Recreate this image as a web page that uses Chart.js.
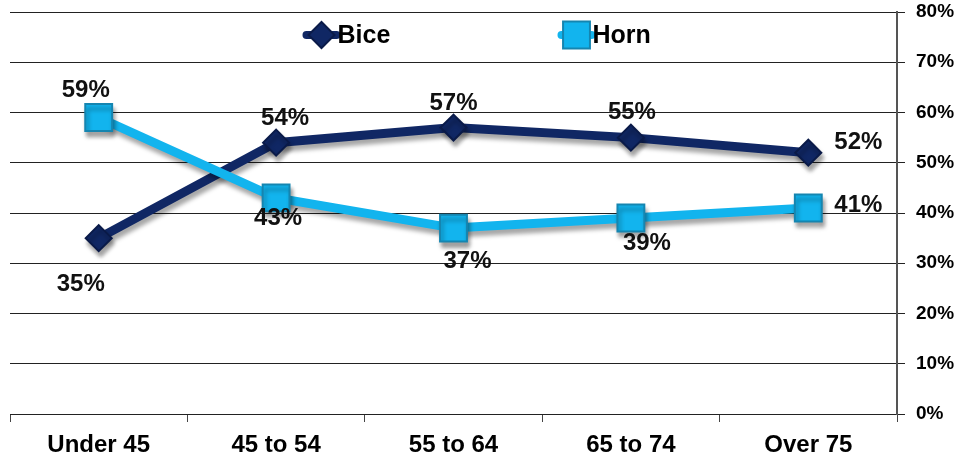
<!DOCTYPE html>
<html>
<head>
<meta charset="utf-8">
<script src="https://cdn.jsdelivr.net/npm/chart.js@4.4.1/dist/chart.umd.min.js"></script>
<style>
  html, body { margin: 0; padding: 0; background: #ffffff; }
  #wrap { width: 972px; height: 461px; position: relative; }
</style>
</head>
<body>
<div id="wrap"><canvas id="c" width="972" height="461"></canvas></div>
<script>
// ---- Data ----
const categories = ["Under 45", "45 to 54", "55 to 64", "65 to 74", "Over 75"];
const biceValues = [35, 54, 57, 55, 52];
const hornValues = [59, 43, 37, 39, 41];
const seriesNames = ["Bice", "Horn"];
const yTickMin = 0;
const yTickMax = 80;
const yTickStep = 10;

// ---- Styles ----
const NAVY = "#102764";
const NAVY_DARK = "#0a1a48";
const SKY = "#12b4ee";
const SKY_DARK = "#1585b0";
const FONT = "'Liberation Sans', Arial, sans-serif";

// label placement (pixel offsets from the point), per series
const labelOffsets = {
  Bice: [[-18, 46], [9, -24], [0, -24], [1, -25], [50, -10]],
  Horn: [[-13, -27], [2, 20], [14, 33], [16, 25], [50, -3]]
};

const shadowPlugin = {
  id: 'lineShadow',
  beforeDatasetDraw(chart) {
    const ctx = chart.ctx;
    ctx.save();
    ctx.shadowColor = 'rgba(0,0,0,0.35)';
    ctx.shadowBlur = 4;
    ctx.shadowOffsetX = 2;
    ctx.shadowOffsetY = 5;
  },
  afterDatasetDraw(chart) {
    chart.ctx.restore();
  }
};

const labelPlugin = {
  id: 'pointLabels',
  afterDatasetsDraw(chart) {
    const ctx = chart.ctx;
    ctx.save();
    ctx.font = "bold 24px " + FONT;
    ctx.fillStyle = "#111111";
    ctx.textAlign = "center";
    ctx.textBaseline = "middle";
    chart.data.datasets.forEach((ds, i) => {
      const meta = chart.getDatasetMeta(i);
      const offs = labelOffsets[ds.label];
      meta.data.forEach((pt, j) => {
        const o = offs[j];
        ctx.fillText(ds.data[j] + "%", pt.x + o[0], pt.y + o[1]);
      });
    });
    ctx.restore();
  }
};

const legendPlugin = {
  id: 'customLegend',
  afterDraw(chart) {
    const ctx = chart.ctx;
    const area = chart.chartArea;
    const cx = (area.left + area.right) / 2;
    const y = area.top + 23;
    const items = [
      { name: seriesNames[0], x: cx - 149, style: 'rectRot', r: 13, fill: NAVY, stroke: NAVY_DARK, line: NAVY },
      { name: seriesNames[1], x: cx + 106, style: 'rect', r: 19, fill: SKY, stroke: SKY_DARK, line: SKY }
    ];
    ctx.save();
    items.forEach(it => {
      const mx = it.x + 17;
      ctx.strokeStyle = it.line;
      ctx.lineWidth = 8;
      ctx.lineCap = 'round';
      ctx.beginPath();
      ctx.moveTo(it.x + 2, y);
      ctx.lineTo(it.x + 32, y);
      ctx.stroke();
      ctx.fillStyle = it.fill;
      ctx.strokeStyle = it.stroke;
      ctx.lineWidth = 2;
      Chart.helpers.drawPoint(ctx, { pointStyle: it.style, radius: it.r, borderWidth: 2, rotation: 0 }, mx, y);
      ctx.font = "bold 25px " + FONT;
      ctx.fillStyle = "#000000";
      ctx.textAlign = "left";
      ctx.textBaseline = "middle";
      ctx.fillText(it.name, it.x + 33, y + 1);
    });
    ctx.restore();
  }
};

const ctx = document.getElementById('c').getContext('2d');
new Chart(ctx, {
  type: 'line',
  data: {
    labels: categories,
    datasets: [
      {
        label: seriesNames[0],
        data: biceValues,
        borderColor: NAVY,
        backgroundColor: NAVY,
        borderWidth: 9,
        pointStyle: 'rectRot',
        pointRadius: 13,
        pointHoverRadius: 13,
        pointBackgroundColor: NAVY,
        pointBorderColor: NAVY_DARK,
        pointBorderWidth: 2,
        tension: 0,
        order: 2
      },
      {
        label: seriesNames[1],
        data: hornValues,
        borderColor: SKY,
        backgroundColor: SKY,
        borderWidth: 9,
        pointStyle: 'rect',
        pointRadius: 19,
        pointHoverRadius: 19,
        pointBackgroundColor: SKY,
        pointBorderColor: SKY_DARK,
        pointBorderWidth: 2,
        tension: 0,
        order: 1
      }
    ]
  },
  options: {
    responsive: false,
    animation: false,
    layout: { autoPadding: false, padding: { left: 10, top: 12, right: 0, bottom: 0 } },
    plugins: {
      legend: { display: false },
      tooltip: { enabled: false }
    },
    scales: {
      x: {
        offset: true,
        grid: {
          offset: true,
          display: true,
          drawOnChartArea: false,
          drawTicks: true,
          tickLength: 8,
          color: '#444444',
          lineWidth: 1
        },
        border: { display: false },
        ticks: {
          color: '#000000',
          font: { family: FONT, size: 24, weight: 'bold' },
          padding: 9,
          maxRotation: 0
        },
        afterFit(s) {
          s.height = 47;
          s.paddingLeft = 0; s.paddingRight = 0; s.paddingTop = 0; s.paddingBottom = 0;
        }
      },
      y: {
        position: 'right',
        min: yTickMin,
        max: yTickMax,
        ticks: {
          stepSize: yTickStep,
          color: '#000000',
          font: { family: FONT, size: 19, weight: 'bold' },
          padding: 11,
          callback: v => v + '%'
        },
        grid: {
          color: '#222222',
          lineWidth: 1,
          tickLength: 8,
          drawTicks: true
        },
        border: { display: true, color: '#555555', width: 2 },
        afterFit(s) {
          s.width = 75;
          s.paddingLeft = 0; s.paddingRight = 0; s.paddingTop = 0; s.paddingBottom = 0;
        }
      }
    }
  },
  plugins: [shadowPlugin, labelPlugin, legendPlugin]
});
</script>
</body>
</html>
